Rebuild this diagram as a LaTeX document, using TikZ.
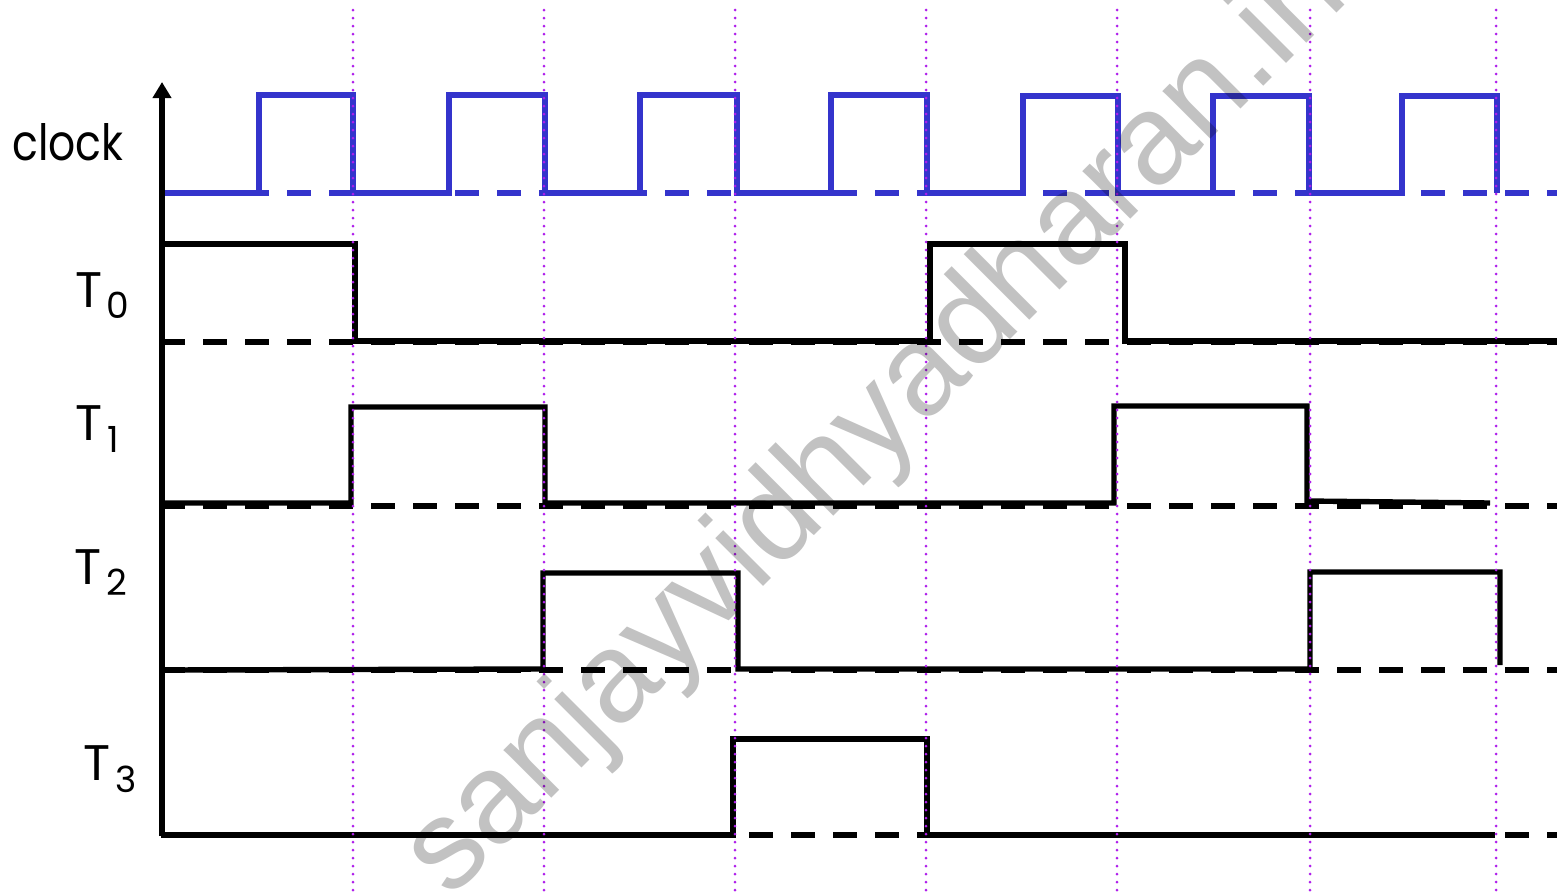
\documentclass[tikz,border=0pt]{standalone}
\usepackage{fontspec}
\setmainfont{Poppins}
\newfontfamily\wmfont{Liberation Sans}
\usetikzlibrary{arrows.meta}
\definecolor{clk}{RGB}{52,52,204}
\definecolor{gridc}{RGB}{175,30,235}
\begin{document}
\begin{tikzpicture}[x=0.5pt,y=-0.5pt,
  sig/.style={line width=2.7pt, line join=miter},
  clksig/.style={sig, draw=clk},
  baseline/.style={line width=2.7pt, dash pattern=on 12pt off 9pt},
  gridline/.style={draw=gridc, line width=1.5pt, line cap=round, dash pattern=on 0pt off 4pt},
  lab/.style={inner sep=0pt, anchor=base west, font=\fontsize{25}{25}\selectfont},
  sublab/.style={inner sep=0pt, anchor=base west, font=\fontsize{18}{18}\selectfont},
  wm/.style={inner sep=0pt, anchor=base west, rotate=45, text=black, text opacity=0.24,
    font=\wmfont\fontsize{64}{64}\selectfont}]
\useasboundingbox (0,0) rectangle (1557,891);
\clip (0,0) rectangle (1557,891);

% dashed reference levels
\draw[baseline, draw=clk] (161,193) -- (1557,193);
\draw[baseline] (161,342) -- (1557,342);
\draw[baseline] (161,506) -- (1557,506);
\draw[baseline] (161,670) -- (1557,670);
\draw[baseline] (161,835) -- (1557,835);

% clock
\draw[clksig] (162,193) -- (259,193) -- (259,95) -- (353,95) -- (353,193)
  -- (449,193) -- (449,95) -- (545,95) -- (545,193)
  -- (640,193) -- (640,95) -- (737,95) -- (737,193)
  -- (831,193) -- (831,95) -- (927,95) -- (927,193)
  -- (1023,193) -- (1023,96) -- (1118,96) -- (1118,193)
  -- (1213,193) -- (1213,96) -- (1309,96) -- (1309,193)
  -- (1402,193) -- (1402,96) -- (1497,96) -- (1497,193);

% T0
\draw[sig] (165,244) -- (355,244) -- (355,341) -- (930,341) -- (930,244)
  -- (1125,244) -- (1125,341) -- (1557,341);
% T1
\draw[sig] (162,503) -- (351,503) -- (351,407) -- (545,407) -- (545,503)
  -- (1114,503) -- (1114,406) -- (1307,406) -- (1307,501) -- (1490,503);
% T2
\draw[sig] (162,670) -- (543,669) -- (543,573) -- (738,573) -- (738,669)
  -- (1310,669) -- (1310,572) -- (1500,572) -- (1500,665);
% T3
\draw[sig] (162,835) -- (733,835) -- (733,739) -- (927,739) -- (927,835)
  -- (1495,835);

% axis
\draw[line width=3pt, -{Triangle[width=9pt,length=8pt]}] (162,836) -- (162,82);

% clock edge markers
\foreach \gx in {353,544,735,926,1117,1310,1496}
  \draw[gridline] (\gx,10) -- (\gx,891);

% labels
\node[lab] (clock) at (12,160) {\scalebox{0.85}[1]{clock}};
\node[lab] (t0) at (75,307) {T};
\node[sublab] (t0s) at (106,318) {0};
\node[lab] (t1) at (75,440) {T};
\node[sublab] (t1s) at (107,452) {1};
\node[lab] (t2) at (74,584) {T};
\node[sublab] (t2s) at (106,595) {2};
\node[lab] (t3) at (83,780) {T};
\node[sublab] (t3s) at (115,792) {3};

% watermark
\node[wm] (wmark) at (450,900) {sanjayvidhyadharan.in};
\end{tikzpicture}
\end{document}
